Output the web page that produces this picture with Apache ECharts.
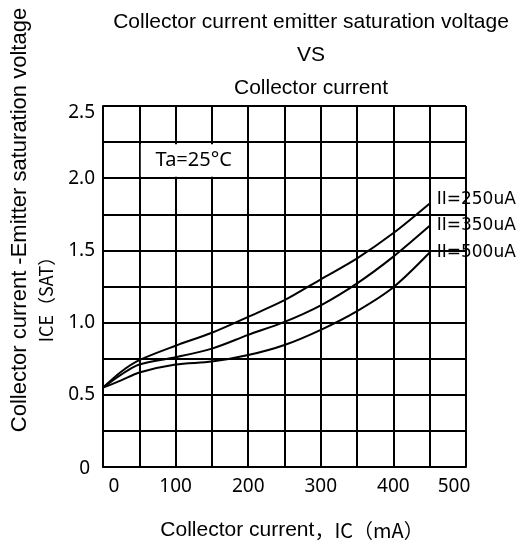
<!DOCTYPE html>
<html>
<head>
<meta charset="utf-8">
<script src="https://cdn.jsdelivr.net/npm/echarts@6/dist/echarts.min.js"></script>
<style>
  html, body { margin: 0; padding: 0; background: #fff; }
  #chart { width: 521px; height: 544px; }
</style>
</head>
<body>
<div id="chart"></div>
<script>
// collector current (mA)
const icValues = [0, 25, 50, 100, 150, 200, 250, 300, 350, 400, 450];
// VCE(sat) per base current
const vce250 = [0.55, 0.66, 0.74, 0.84, 0.93, 1.04, 1.155, 1.30, 1.445, 1.62, 1.825];
const vce350 = [0.55, 0.64, 0.71, 0.76, 0.82, 0.915, 1.005, 1.12, 1.272, 1.457, 1.67];
const vce500 = [0.55, 0.60, 0.655, 0.71, 0.73, 0.775, 0.845, 0.95, 1.08, 1.245, 1.485];
const seriesNames = ["II=250uA", "II=350uA", "II=500uA"];
const xTicks = [0, 100, 200, 300, 400, 500];
const yTicks = [0, 0.5, 1.0, 1.5, 2.0, 2.5];
const noteText = "Ta=25°C";
const noteBox = [[52, 2.235], [198, 2.01]];

const chart = echarts.init(document.getElementById("chart"));

const black = "#000";
const pair = (ys) => icValues.map((x, i) => [x, ys[i]]);

function curve(name, ys, dy) {
  return {
    name: name,
    type: "line",
    data: pair(ys),
    smooth: 0.3,
    symbol: "none",
    lineStyle: { color: black, width: 2 },
    endLabel: {
      show: true,
      formatter: "{a}",
      color: black,
      fontFamily: "DejaVu Sans",
      fontSize: 17,
      distance: 7,
      offset: [0, dy]
    }
  };
}

const series = [
  curve(seriesNames[0], vce250, -4),
  curve(seriesNames[1], vce350, 0),
  curve(seriesNames[2], vce500, 0)
];

// white box with the temperature note
series[0].markArea = {
  silent: true,
  itemStyle: { color: "#fff" },
  label: {
    show: true,
    position: "inside",
    color: black,
    fontFamily: "Noto Sans",
    fontSize: 20
  },
  data: [[
    { name: noteText, coord: noteBox[0] },
    { coord: noteBox[1] }
  ]]
};

chart.setOption({
  animation: false,
  grid: { left: 103, top: 106, right: 55, bottom: 77 },
  xAxis: {
    type: "value",
    min: 0,
    max: 500,
    interval: 50,
    axisLine: { show: true, lineStyle: { color: black, width: 2 } },
    axisTick: { show: false },
    splitLine: { show: true, lineStyle: { color: black, width: 2 } },
    axisLabel: {
      margin: 10,
      color: black,
      fontFamily: "Noto Sans",
      fontSize: 19,
      formatter: (v) => {
        if (!xTicks.includes(v)) return "";
        if (v === xTicks[0]) return "{l|" + v + "}";
        if (v === xTicks[xTicks.length - 1]) return "{r|" + v + "}";
        return String(v);
      },
      rich: {
        l: { fontFamily: "Noto Sans", fontSize: 19, color: black, padding: [0, 0, 0, 22] },
        r: { fontFamily: "Noto Sans", fontSize: 19, color: black, padding: [0, 24, 0, 0] }
      }
    }
  },
  yAxis: {
    type: "value",
    min: 0,
    max: 2.5,
    interval: 0.25,
    axisLine: { show: true, lineStyle: { color: black, width: 2 } },
    axisTick: { show: false },
    splitLine: { show: true, lineStyle: { color: black, width: 2 } },
    axisLabel: {
      margin: 8,
      color: black,
      fontFamily: "Noto Sans",
      fontSize: 19,
      formatter: (v) => {
        const t = yTicks.find((y) => Math.abs(y - v) < 1e-6);
        if (t === undefined) return "";
        if (t === 0) return "{z|0}";
        if (t === yTicks[yTicks.length - 1]) return "{t|" + t.toFixed(1) + "}";
        return t.toFixed(1);
      },
      rich: {
        z: { fontFamily: "Noto Sans", fontSize: 19, color: black, padding: [4, 5, 0, 0] },
        t: { fontFamily: "Noto Sans", fontSize: 19, color: black, padding: [14, 0, 0, 0] }
      }
    }
  },
  graphic: [
    {
      type: "text",
      x: 311,
      y: 55,
      style: {
        text: "Collector current emitter saturation voltage\nVS\nCollector current",
        fill: black,
        fontFamily: "Liberation Sans",
        fontSize: 21,
        lineHeight: 33,
        align: "center",
        verticalAlign: "middle"
      }
    },
    {
      type: "text",
      x: 20,
      y: 220,
      rotation: Math.PI / 2,
      style: {
        text: "Collector current -Emitter saturation voltage",
        fill: black,
        fontFamily: "Liberation Sans",
        fontSize: 22,
        align: "center",
        verticalAlign: "middle"
      }
    },
    {
      type: "text",
      x: 46,
      y: 295,
      rotation: Math.PI / 2,
      style: {
        text: "ICE（SAT）",
        fill: black,
        fontFamily: "Noto Sans CJK SC",
        fontSize: 18,
        align: "center",
        verticalAlign: "middle"
      }
    },
    {
      type: "text",
      x: 292,
      y: 530,
      style: {
        text: "{a|Collector current}{b|，IC（mA）}",
        rich: {
          a: { fontFamily: "Liberation Sans", fontSize: 21, fill: black },
          b: { fontFamily: "Noto Sans CJK SC", fontSize: 20, fill: black }
        },
        fill: black,
        align: "center",
        verticalAlign: "middle"
      }
    }
  ],
  series: series
});
</script>
</body>
</html>
